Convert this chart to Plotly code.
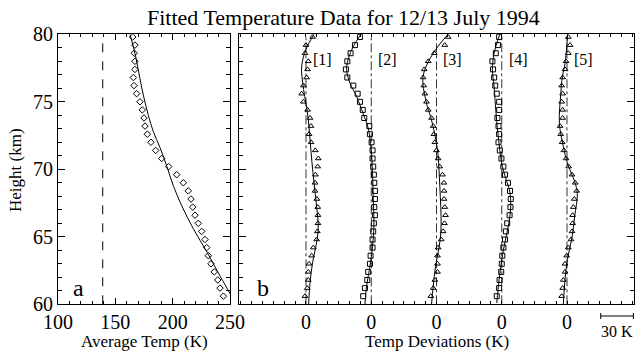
import plotly.graph_objects as go

# ---------------- data ----------------
HEIGHTS = [60.6, 61.2, 61.8, 62.4, 63.0, 63.6, 64.2, 64.8, 65.4, 66.0, 66.6,
           67.2, 67.8, 68.4, 69.0, 69.6, 70.2, 70.8, 71.4, 72.0, 72.6, 73.2,
           73.8, 74.4, 75.0, 75.6, 76.2, 76.8, 77.4, 78.0, 78.6, 79.2, 79.8]

# panel a: average temperature (K)
AVG_TEMP = [244.2, 241.3, 239.3, 236.3, 233.4, 231.1, 229.7, 228.2, 225.3, 222.3,
            219.5, 217.5, 216.0, 213.6, 209.3, 203.5, 196.5, 190.4, 185.2, 181.1,
            177.9, 175.9, 175.0, 173.5, 171.5, 168.6, 166.3, 165.7, 167.1, 167.1,
            166.5, 167.1, 165.1]
FIT_A_H = [60.0, 60.8, 62.1, 63.9, 65.6, 67.3, 68.8, 70.2, 71.6, 72.8, 74.0, 75.5, 76.7, 78.6, 80.0]
FIT_A_T = [255.0, 250.0, 241.3, 229.7, 218.0, 207.9, 200.5, 195.0, 189.0, 183.1, 178.8, 174.4, 171.5, 167.1, 162.8]
REF_TEMP = 139.0

# panel b: temperature deviations (K) for five profiles
DEV = {
    1: [-0.9, 1.2, 2.1, 2.1, 2.8, 5.2, 6.7, 9.8, 10.4, 11.0, 11.0, 10.8, 10.0, 8.3, 8.3, 8.6,
        10.8, 11.3, 8.5, 4.7, 2.8, 4.6, 3.7, 1.5, -2.4, -4.0, -2.4, 0.6, 1.5, 2.1, -0.9, 0.0, 6.1],
    2: [-7.4, -5.8, -3.7, -2.8, -1.2, -0.6, 1.2, 1.2, 1.8, 2.4, 3.4, 2.8, 3.4, 3.4, 2.8, 2.4,
        1.8, 1.2, 1.2, 0.3, -1.2, -1.8, -6.4, -7.8, -10.4, -12.5, -16.5, -22.0, -23.3, -22.0,
        -19.0, -15.0, -10.4],
    3: [-5.2, -3.0, -1.5, 0.9, 0.9, 0.9, 1.5, 4.3, 6.1, 7.3, 8.3, 7.6, 7.0, 7.0, 6.8, 5.5,
        3.0, 1.5, 0.0, -1.5, -2.4, -3.0, -4.6, -7.6, -9.2, -10.7, -11.7, -12.3, -11.3, -7.6,
        -2.0, 7.6, 10.7],
    4: [-4.6, -2.4, -2.0, -0.5, 0.0, 0.5, 1.5, 3.0, 3.8, 5.0, 7.2, 8.0, 8.3, 7.6, 5.7, 3.0,
        1.5, -0.3, -1.8, -3.0, -2.4, -3.0, -4.0, -2.4, -2.4, -4.6, -6.0, -7.0, -8.0, -8.6,
        -5.5, -3.5, -2.4],
    5: [-4.9, -4.0, -3.4, -1.8, -1.8, -0.3, 1.2, 3.7, 4.6, 5.2, 5.2, 5.8, 6.7, 8.9, 7.6, 4.6,
        1.5, -0.9, -2.9, -4.5, -5.8, -6.4, -4.0, -4.0, -4.9, -4.0, -4.9, -4.0, -1.8, -0.9,
        1.2, 2.8, 1.2],
}
FIT_H = {
    1: [60.0, 61.6, 63.1, 64.6, 65.7, 67.2, 69.0, 70.5, 72.2, 74.1, 75.4, 76.4, 77.6, 78.9, 80.0],
    2: [60.0, 61.35, 62.8, 64.3, 65.8, 68.0, 70.2, 71.9, 73.2, 74.1, 75.4, 76.4, 77.4, 78.2, 79.1, 80.0],
    3: [60.0, 61.35, 62.8, 64.3, 65.3, 66.5, 68.0, 69.5, 71.0, 72.2, 73.65, 75.1, 76.9, 78.6, 80.0],
    4: [60.1, 61.85, 63.6, 65.0, 66.0, 67.3, 68.3, 69.0, 70.2, 72.65, 74.4, 76.1, 77.4, 78.6, 80.0],
    5: [60.0, 61.85, 63.3, 64.9, 66.5, 68.2, 69.1, 70.4, 71.7, 73.4, 75.5, 76.9, 77.85, 80.0],
}
FIT_D = {
    1: [2.4, 3.7, 6.1, 9.8, 11.3, 9.8, 7.4, 5.5, 3.7, 1.5, -1.2, -3.0, -4.0, 0.0, 7.4],
    2: [-5.8, -4.3, -1.2, 1.2, 2.4, 1.8, 0.9, -0.6, -3.3, -7.4, -13.5, -19.6, -22.7, -21.0, -16.5, -9.5],
    3: [-4.6, -3.0, -0.9, 2.5, 4.0, 4.2, 3.5, 2.6, 1.5, -0.6, -4.6, -9.8, -12.3, -3.0, 10.7],
    4: [-4.6, -2.4, 0.6, 4.0, 6.5, 8.3, 7.5, 5.0, 0.6, -3.5, -5.5, -7.0, -8.6, -7.0, -1.8],
    5: [-3.4, -1.8, 0.3, 4.5, 7.0, 9.5, 7.0, 0.6, -3.4, -7.0, -5.8, -4.2, -1.8, 0.6],
}
SYMBOLS = {1: "triangle-up-open", 2: "square-open", 3: "triangle-up-open",
           4: "square-open", 5: "triangle-up-open"}
PROFILE_LABELS = ["[1]", "[2]", "[3]", "[4]", "[5]"]
SPACING = 60.0
SCALE_K = 30.0

FONT = "Liberation Serif"
W, H = 637, 352

fig = go.Figure()

# ---- panel a ----
fig.add_trace(go.Scatter(x=[REF_TEMP, REF_TEMP], y=[60, 80], mode="lines",
                         line=dict(color="black", width=1, dash="dash"),
                         xaxis="x", yaxis="y", showlegend=False))
fig.add_trace(go.Scatter(x=FIT_A_T, y=FIT_A_H, mode="lines",
                         line=dict(color="black", width=1, shape="spline"),
                         xaxis="x", yaxis="y", showlegend=False))
fig.add_trace(go.Scatter(x=AVG_TEMP, y=HEIGHTS, mode="markers",
                         marker=dict(symbol="diamond-open", size=5, color="black",
                                     line=dict(width=1, color="black")),
                         xaxis="x", yaxis="y", showlegend=False))

# ---- panel b ----
for i in range(1, 6):
    off = SPACING * (i - 1)
    fig.add_trace(go.Scatter(x=[off, off], y=[60, 80], mode="lines",
                             line=dict(color="#333", width=1, dash="dashdot"),
                             xaxis="x2", yaxis="y2", showlegend=False))
    fig.add_trace(go.Scatter(x=[d + off for d in FIT_D[i]], y=FIT_H[i], mode="lines",
                             line=dict(color="black", width=1, shape="spline"),
                             xaxis="x2", yaxis="y2", showlegend=False))
    fig.add_trace(go.Scatter(x=[d + off for d in DEV[i]], y=HEIGHTS, mode="markers",
                             marker=dict(symbol=SYMBOLS[i], size=5, color="black",
                                         line=dict(width=1, color="black")),
                             xaxis="x2", yaxis="y2", showlegend=False))

axis_common = dict(showline=True, linecolor="black", linewidth=1, mirror="ticks",
                   ticks="inside", tickcolor="black", showgrid=False, zeroline=False,
                   automargin=False,
                   tickfont=dict(family=FONT, size=20, color="black"))

ydom = [47.7 / H, (H - 34.3) / H]
fig.update_layout(
    template="none",
    width=W, height=H, margin=dict(l=0, r=0, t=0, b=0, autoexpand=False),
    paper_bgcolor="white", plot_bgcolor="white",
    font=dict(family=FONT, color="black"),
    xaxis=dict(domain=[58 / W, 230 / W], range=[100, 250], anchor="y",
               tickvals=[100, 150, 200, 250], ticklen=6,
               minor=dict(ticks="inside", tickmode="linear", tick0=100, dtick=10,
                          ticklen=3, tickcolor="black"),
               ticklabelstandoff=0, **axis_common),
    yaxis=dict(domain=ydom, range=[60, 80], anchor="x",
               tickvals=[60, 65, 70, 75, 80], ticklen=7,
               minor=dict(ticks="inside", tickmode="linear", tick0=60, dtick=1,
                          ticklen=4, tickcolor="black"),
               **axis_common),
    xaxis2=dict(domain=[239 / W, 634 / W], range=[-61.6, 301.6], anchor="y2",
                tickvals=[SPACING * k for k in range(5)], ticktext=["0"] * 5, ticklen=3,
                minor=dict(ticks="inside", tickmode="linear", tick0=0, dtick=10,
                           ticklen=3, tickcolor="black"),
                ticklabelstandoff=0, **axis_common),
    yaxis2=dict(domain=ydom, range=[60, 80], anchor="x2", showticklabels=False,
                tickvals=[60, 65, 70, 75, 80], ticklen=7,
                minor=dict(ticks="inside", tickmode="linear", tick0=60, dtick=1,
                           ticklen=4, tickcolor="black"),
                **axis_common),
)

# 30 K scale bar below the right panel
bar_end = SPACING * 4 + 61.0
bar_start = bar_end - SCALE_K
bar_y = (H - 316) / H
cap = 3 / H
fig.add_shape(type="line", xref="x2", yref="paper", x0=bar_start, x1=bar_end,
              y0=bar_y, y1=bar_y, line=dict(color="black", width=1))
for xb in (bar_start, bar_end):
    fig.add_shape(type="line", xref="x2", yref="paper", x0=xb, x1=xb,
                  y0=bar_y - cap, y1=bar_y + cap, line=dict(color="black", width=1))

ann = []
def add_ann(text, x, y, xref="paper", yref="paper", size=17, **kw):
    ann.append(dict(text=text, x=x, y=y, xref=xref, yref=yref, showarrow=False,
                    xanchor="center", yanchor="middle",
                    font=dict(size=size, family=FONT, color="black"), **kw))

add_ann("Fitted Temperature Data for 12/13 July 1994", 343 / W, (H - 17) / H, size=22)
add_ann("Average Temp (K)", 144 / W, (H - 341) / H)
add_ann("Temp Deviations (K)", 436.5 / W, (H - 341) / H)
add_ann("Height (km)", 15 / W, (H - 170) / H, textangle=-90)
add_ann("a", 118.3, 61.2, xref="x", yref="y", size=24)
add_ann("b", -39.5, 61.2, xref="x2", yref="y2", size=24)
for k, lab in enumerate(PROFILE_LABELS):
    add_ann(lab, SPACING * k + 15, 78.1, xref="x2", yref="y2", size=16)
add_ann("30 K", bar_end - SCALE_K / 2, (H - 331) / H, xref="x2", yref="paper", size=16)
fig.update_layout(annotations=ann)

fig.write_html("out.html")
